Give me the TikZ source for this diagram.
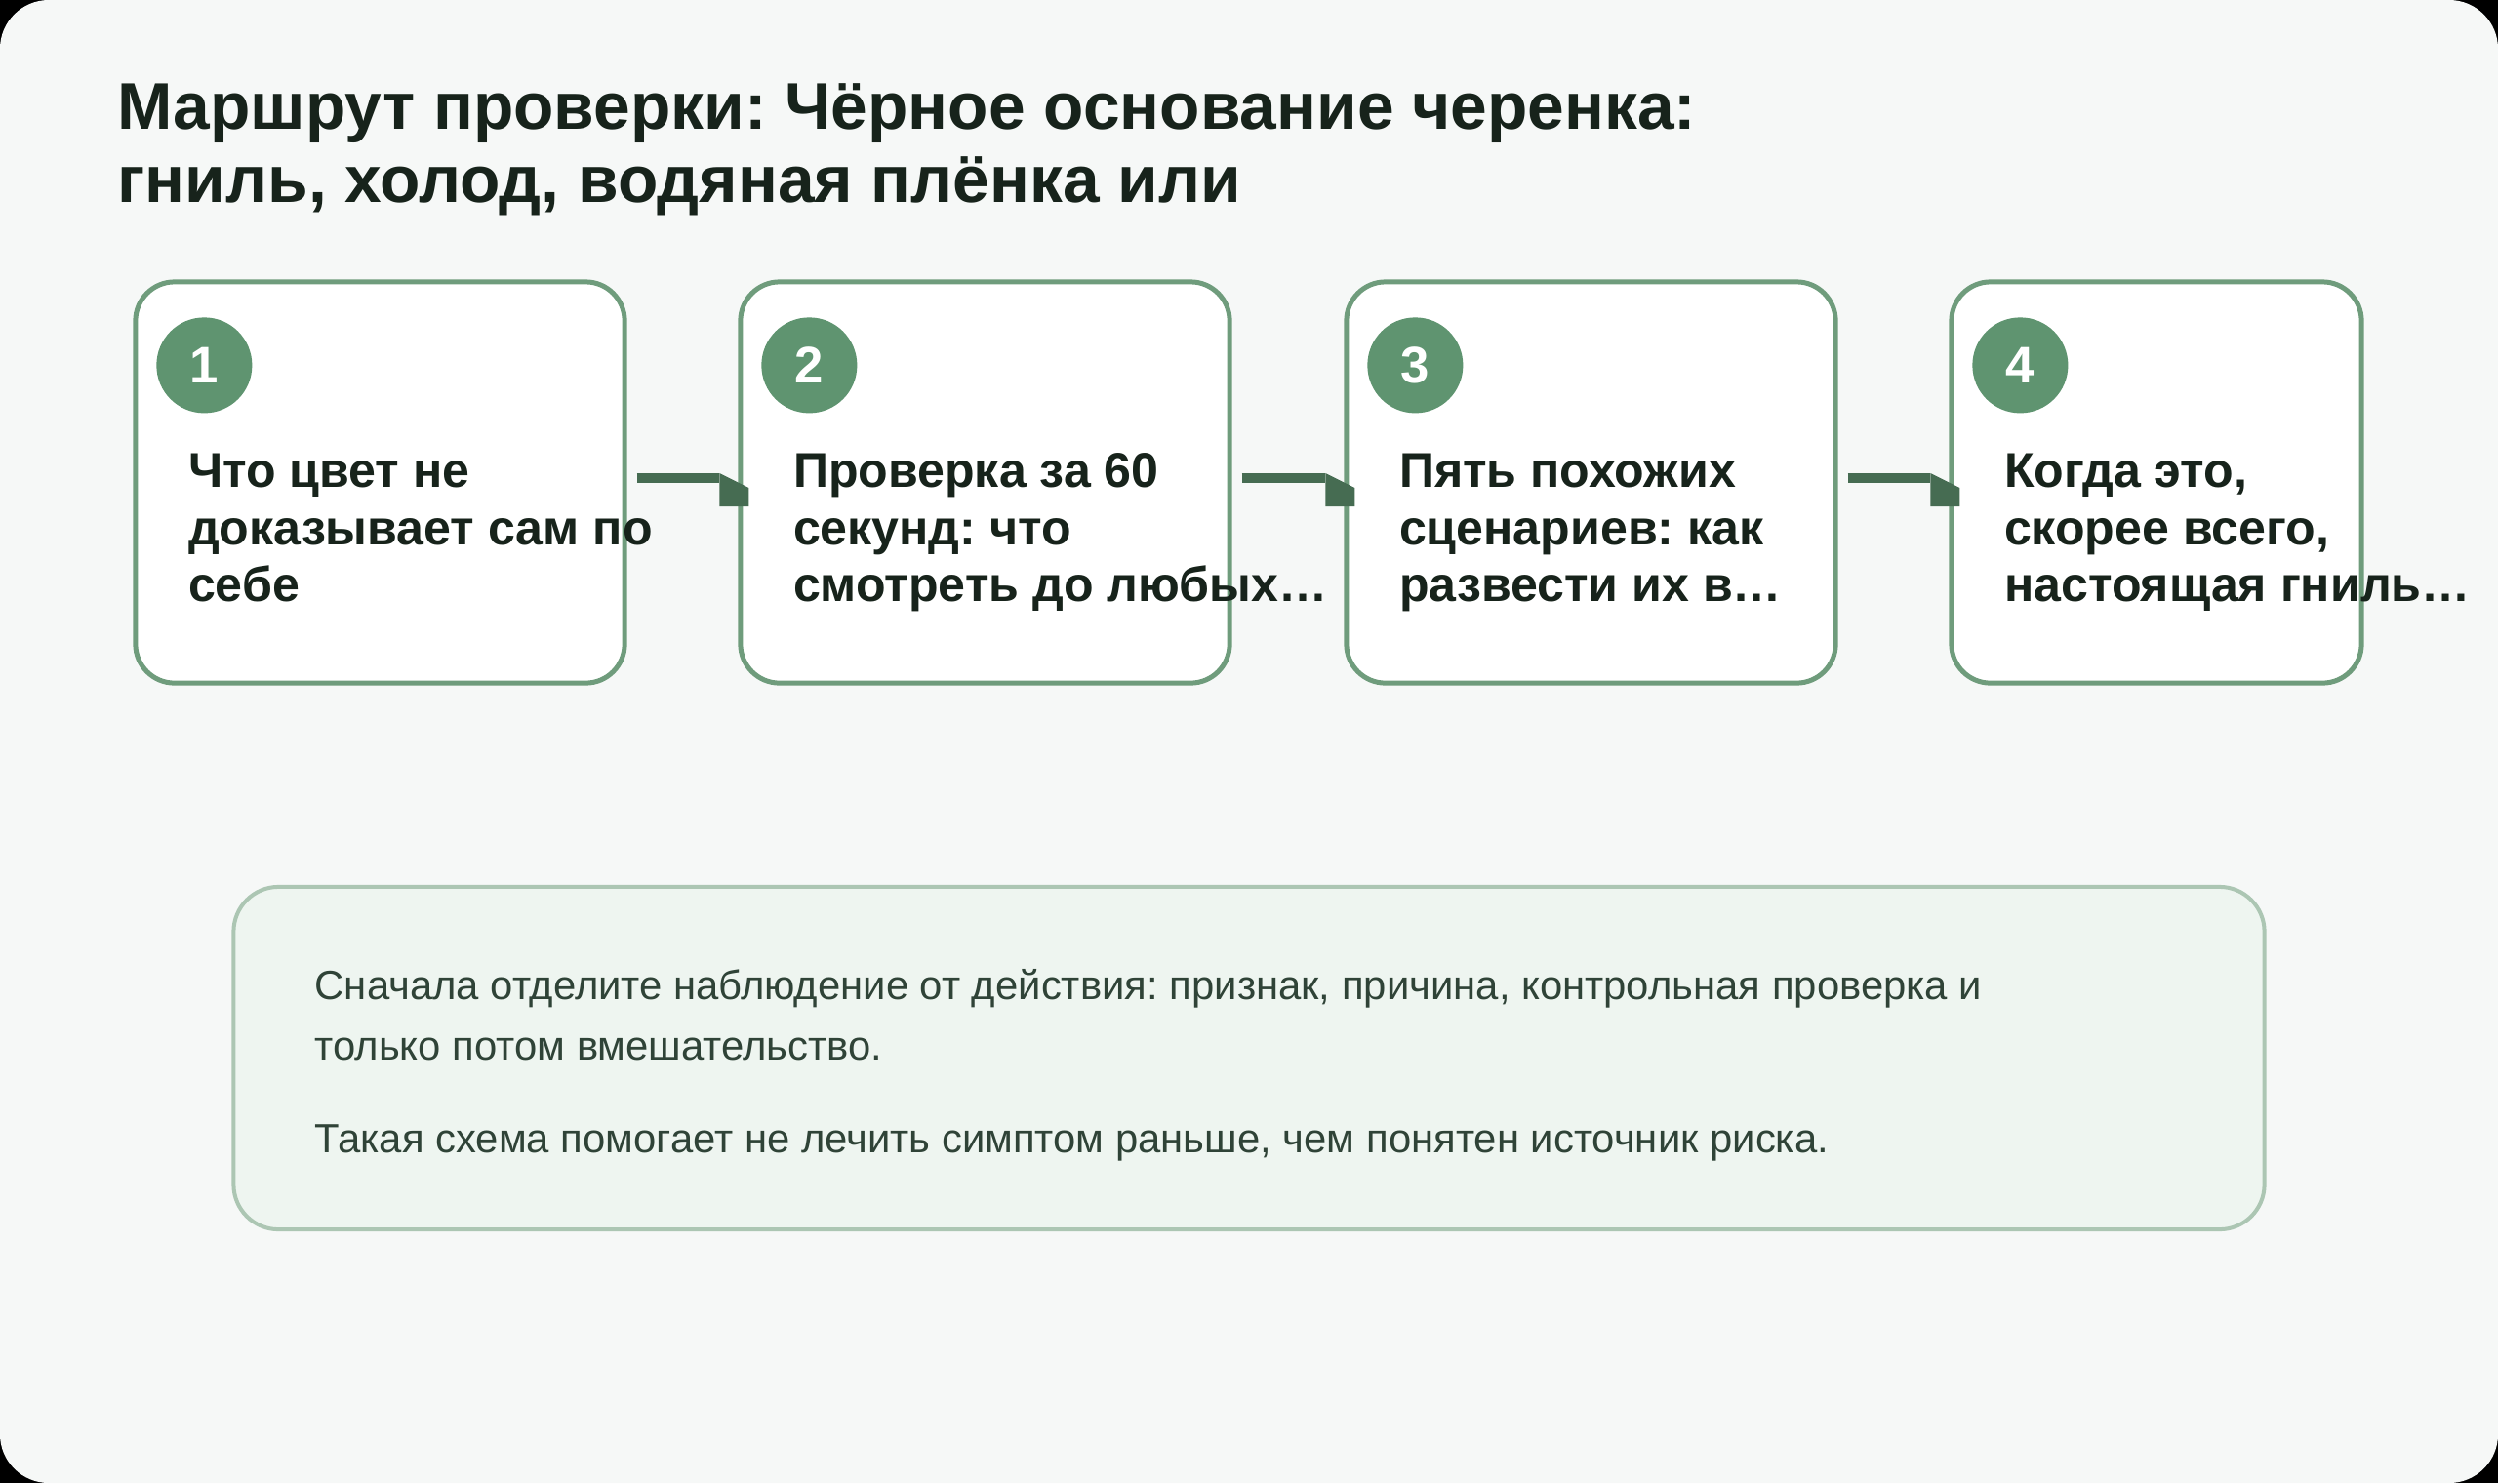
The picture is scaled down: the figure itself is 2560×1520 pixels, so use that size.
\documentclass[tikz,border=0pt]{standalone}
\usepackage{fontspec}
\setmainfont{Liberation Sans}
\frenchspacing
\usetikzlibrary{calc}
\definecolor{PageBg}{HTML}{F6F8F7}
\definecolor{InkDark}{HTML}{17231B}
\definecolor{InkSoft}{HTML}{2F4337}
\definecolor{BoxLine}{HTML}{6F9C7C}
\definecolor{DotFill}{HTML}{5F9470}
\definecolor{FlowGreen}{HTML}{466C52}
\definecolor{PanelLine}{HTML}{ACC6B3}
\definecolor{PanelFill}{HTML}{EEF5F0}
\tikzset{
    % Step boxes
    stepbox/.style={
        rectangle,
        rounded corners=0.4cm,
        draw=BoxLine,
        fill=white,
        line width=1.42pt,
        minimum width=5.01cm,
        minimum height=4.11cm,
        inner sep=0pt
    },
    numdot/.style={
        circle,
        fill=DotFill,
        text=white,
        minimum size=0.98cm,
        inner sep=0pt,
        font=\fontsize{15}{15}\selectfont\bfseries
    },
    steptext/.style={
        anchor=base west,
        align=left,
        inner sep=0pt,
        text=InkDark,
        font=\fontsize{14.25}{16.6}\selectfont\bfseries
    },
    notetext/.style={
        anchor=base west,
        align=left,
        inner sep=0pt,
        text=InkSoft,
        font=\fontsize{11.9}{17.6}\selectfont
    },
    % Connectors
    flowline/.style={
        draw=FlowGreen,
        line width=2.85pt
    },
    flowhead/.style={
        fill=FlowGreen
    }
}

\begin{document}
\begin{tikzpicture}[x=0.01cm, y=-0.01cm]
    % Page
    \fill[black] (0,0) rectangle (2560,1520);
    \fill[PageBg, rounded corners=0.5cm] (0,0) rectangle (2560,1520);

    % Title (base = last line)
    \node[anchor=base west, align=left, inner sep=0pt, text=InkDark,
          font=\fontsize{19.25}{21.05}\selectfont\bfseries] (title) at (120,207)
          {Маршрут проверки: Чёрное основание черенка:\\гниль, холод, водяная плёнка или};

    % Steps
    \node[stepbox] (s1) at (389.5,494.5) {};
    \node[stepbox] (s2) at (1009.5,494.5) {};
    \node[stepbox] (s3) at (1630.5,494.5) {};
    \node[stepbox, minimum width=4.2cm] (s4) at (2210,494.5) {};

    \node[numdot] (n1) at ($(s1.north west)+(73,88)$) {1};
    \node[numdot] (n2) at ($(s2.north west)+(73,88)$) {2};
    \node[numdot] (n3) at ($(s3.north west)+(73,88)$) {3};
    \node[numdot] (n4) at ($(s4.north west)+(73,88)$) {4};

    \node[steptext] (t1) at ($(s1.north west)+(56,330)$) {Что цвет не\\доказывает сам по\\себе};
    \node[steptext] (t2) at ($(s2.north west)+(56,330)$) {Проверка за 60\\секунд: что\\смотреть до любых…};
    \node[steptext] (t3) at ($(s3.north west)+(56,330)$) {Пять похожих\\сценариев: как\\развести их в…};
    \node[steptext] (t4) at ($(s4.north west)+(56,330)$) {Когда это,\\скорее всего,\\настоящая гниль…};

    % Connectors
    \draw[flowline] ($(s1.east)+(10,-4.5)$) -- ($(s2.west)+(-19,-4.5)$);
    \fill[flowhead] ($(s2.west)+(-19,-9.5)$) -- ++(30,15) -- ++(0,19) -- ++(-30,0) -- cycle;
    \draw[flowline] ($(s2.east)+(10,-4.5)$) -- ($(s3.west)+(-19,-4.5)$);
    \fill[flowhead] ($(s3.west)+(-19,-9.5)$) -- ++(30,15) -- ++(0,19) -- ++(-30,0) -- cycle;
    \draw[flowline] ($(s3.east)+(10,-4.5)$) -- ($(s4.west)+(-19,-4.5)$);
    \fill[flowhead] ($(s4.west)+(-19,-9.5)$) -- ++(30,15) -- ++(0,19) -- ++(-30,0) -- cycle;

    % Note panel
    \node[rectangle, rounded corners=0.46cm, draw=PanelLine, fill=PanelFill, line width=1.14pt,
          minimum width=20.8cm, minimum height=3.51cm] (note) at (1280,1084.5) {};
    \node[notetext] (p1) at (322,1086)
        {Сначала отделите наблюдение от действия: признак, причина, контрольная проверка и\\только потом вмешательство.};
    \node[notetext] (p2) at (322,1181)
        {Такая схема помогает не лечить симптом раньше, чем понятен источник риска.};
\end{tikzpicture}
\end{document}
